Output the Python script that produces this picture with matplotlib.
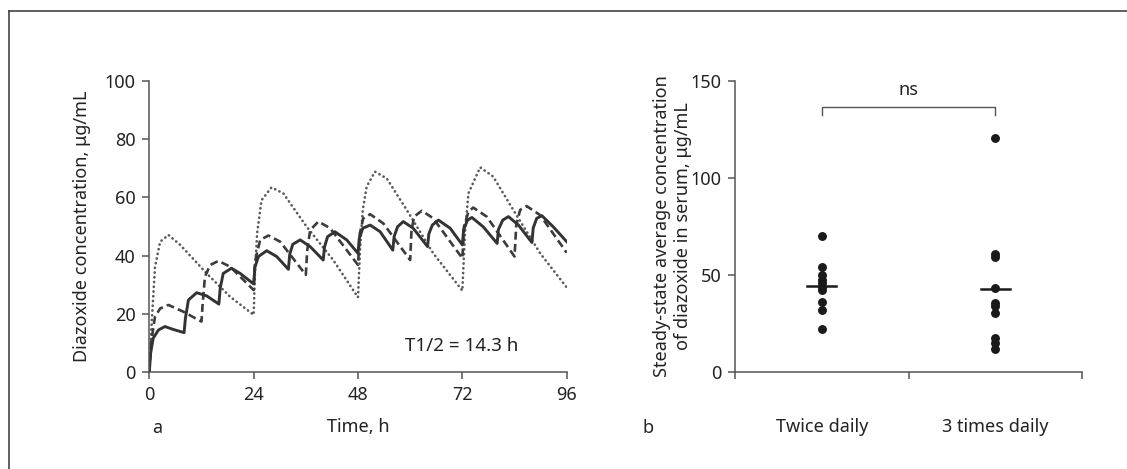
import matplotlib
matplotlib.use("Agg")
import matplotlib.pyplot as plt
from matplotlib.lines import Line2D

plt.rcParams['font.family'] = ['Noto Sans', 'DejaVu Sans']

# panel a: simulated concentration
# once daily (dotted)
t_24 = [0, 0.5, 1.3, 2.5, 4.4, 7.1, 13.2, 18.6, 24.0,
        24.3, 24.8, 25.8, 28.1, 30.8, 36.2, 42.3, 48.0,
        48.5, 49.1, 50.0, 51.9, 54.6, 59.2, 65.3, 72.0,
        72.6, 73.4, 76.1, 79.1, 83.7, 89.9, 96.0]
c_24 = [0, 15.7, 36.0, 44.8, 47.1, 43.7, 33.9, 25.9, 19.7,
        34.0, 47.7, 59.0, 63.4, 61.4, 49.9, 38.5, 25.7,
        43.0, 55.7, 63.7, 68.8, 66.5, 55.7, 40.8, 28.0,
        47.7, 61.4, 70.3, 67.1, 55.7, 40.8, 29.1]

# twice daily (dashed)
t_12 = [0, 0.4, 1.3, 2.5, 4.4, 7.8, 12.0,
        12.3, 12.8, 14.0, 15.9, 18.6, 24.0,
        24.3, 25.5, 27.4, 30.1, 36.0,
        36.3, 37.0, 38.9, 41.6, 48.0,
        48.4, 49.2, 50.8, 53.8, 60.0,
        60.3, 60.9, 62.7, 65.3, 72.0,
        72.4, 73.4, 74.5, 77.6, 84.0,
        84.4, 85.3, 86.8, 89.9, 96.0]
c_12 = [0, 10.0, 19.0, 21.9, 23.1, 20.8, 17.4,
        24.0, 32.8, 36.8, 38.2, 36.2, 28.2,
        38.0, 45.4, 46.9, 44.8, 33.4,
        41.5, 48.8, 51.7, 49.4, 36.8,
        47.5, 52.8, 54.2, 51.1, 38.5,
        48.5, 53.4, 55.4, 52.8, 39.1,
        50.0, 55.1, 56.5, 53.4, 39.7,
        50.5, 55.7, 57.0, 53.9, 41.0]

# 3 times daily (solid)
t_8 = [0, 0.3, 0.9, 2.1, 3.6, 5.5, 8.0,
       8.3, 9.0, 10.9, 13.2, 16.0,
       16.3, 17.0, 18.9, 20.9, 24.0,
       24.3, 25.1, 27.0, 29.3, 32.0,
       32.3, 33.0, 34.7, 37.0, 40.0,
       40.3, 41.0, 42.7, 45.4, 48.0,
       48.3, 49.1, 50.8, 53.1, 56.0,
       56.3, 57.1, 58.4, 60.7, 64.0,
       64.3, 65.1, 66.5, 69.2, 72.0,
       72.3, 73.2, 74.2, 76.8, 80.0,
       80.3, 81.3, 82.6, 84.9, 88.0,
       88.3, 89.1, 90.3, 92.9, 96.0]
c_8 = [0, 6.5, 11.7, 14.5, 15.7, 14.7, 13.6,
       18.5, 24.8, 27.3, 26.2, 23.4,
       28.8, 33.9, 35.7, 33.9, 30.3,
       36.0, 39.7, 41.7, 39.7, 35.3,
       40.5, 43.9, 45.4, 43.1, 38.5,
       43.0, 46.5, 48.2, 45.4, 40.8,
       46.0, 49.4, 50.5, 48.2, 41.9,
       46.5, 49.9, 51.7, 49.4, 43.1,
       47.5, 50.5, 52.2, 49.4, 43.7,
       49.0, 52.2, 53.1, 49.9, 44.2,
       49.0, 52.2, 53.4, 50.5, 44.5,
       49.5, 52.8, 53.7, 49.9, 44.8]

# panel b: individual steady-state averages
groups = ["Twice daily", "3 times daily"]
twice_daily = [70.3, 54.3, 50.0, 47.5, 45.8, 44.0, 42.3, 36.3, 32.0, 22.1]
three_daily = [120.5, 60.7, 59.5, 43.2, 35.5, 34.3, 30.3, 17.8, 14.9, 12.0]
medians = [44.2, 42.8]

W, H = 1127, 469
fig = plt.figure(figsize=(W / 100, H / 100), dpi=100)

axis_col = "#555555"
text_col = "#222222"
fs = 13


def px(x0, y0, x1, y1):
    return [x0 / W, 1 - y1 / H, (x1 - x0) / W, (y1 - y0) / H]


def style(ax):
    for s in ["top", "right"]:
        ax.spines[s].set_visible(False)
    for s in ["left", "bottom"]:
        ax.spines[s].set_color(axis_col)
        ax.spines[s].set_linewidth(1.1)
    ax.tick_params(which="both", direction="out", length=5, width=1.1,
                   color=axis_col, labelsize=fs, labelcolor=text_col, pad=5)


# ---- panel a ----
ax1 = fig.add_axes(px(149.3, 80.7, 566.7, 372.3))
style(ax1)
ax1.plot(t_24, c_24, color="#5a5a5a", lw=1.9, linestyle=(0, (0.1, 1.7)),
         dash_capstyle="round")
ax1.plot(t_12, c_12, color="#3c3c3c", lw=1.9, linestyle=(0, (3.0, 1.6)))
ax1.plot(t_8, c_8, color="#333333", lw=2.1)
ax1.set_xlim(0, 96)
ax1.set_ylim(0, 100)
ax1.set_xticks([0, 24, 48, 72, 96])
ax1.set_yticks([0, 20, 40, 60, 80, 100])
ax1.set_xlabel("Time, h", fontsize=fs, color=text_col, labelpad=10)
ax1.set_ylabel("Diazoxide concentration, μg/mL", fontsize=fs,
               color=text_col, labelpad=10)
ax1.text(58.8, 7.2, "T1/2 = 14.3 h", fontsize=13.5, color=text_col)

# ---- panel b ----
ax2 = fig.add_axes(px(735, 80.7, 1082, 372.3))
style(ax2)
for i, vals in enumerate([twice_daily, three_daily]):
    ax2.plot([i + 1] * len(vals), vals, "o", color="#1a1a1a", ms=5.4,
             mec="#1a1a1a")
    ax2.plot([i + 0.917, i + 1.083], [medians[i]] * 2, color="#1a1a1a",
             lw=1.8)
ax2.set_xlim(0.5, 2.5)
ax2.set_ylim(0, 150)
ax2.set_yticks([0, 50, 100, 150])
ax2.set_xticks([1, 2])
ax2.set_xticklabels(groups)
ax2.set_xticks([0.5, 1.5, 2.5], minor=True)
ax2.tick_params(axis="x", which="major", length=0, pad=33)
ax2.set_ylabel("Steady-state average concentration\nof diazoxide in serum, μg/mL",
               fontsize=fs, color=text_col, linespacing=1.2)
ax2.yaxis.set_label_coords(-0.125, 0.5)
ax2.plot([1, 1, 2, 2], [132.5, 136.5, 136.5, 132.5], color=axis_col, lw=1.0,
         clip_on=False)
ax2.text(1.5, 140.5, "ns", ha="center", va="bottom", fontsize=fs,
         color=text_col)

# panel letters
fig.text(152 / W, 1 - 428 / H, "a", fontsize=fs, fontweight="bold",
         color=text_col, va="center")
fig.text(643 / W, 1 - 428 / H, "b", fontsize=fs, fontweight="bold",
         color=text_col, va="center")

# partial frame round the figure
fig.add_artist(Line2D([9 / W, 1], [1 - 11 / H, 1 - 11 / H], color="#444444",
                      lw=1.2, transform=fig.transFigure))
fig.add_artist(Line2D([9 / W, 9 / W], [0, 1 - 11 / H], color="#444444",
                      lw=1.2, transform=fig.transFigure))

fig.savefig("out.png", dpi=100)
